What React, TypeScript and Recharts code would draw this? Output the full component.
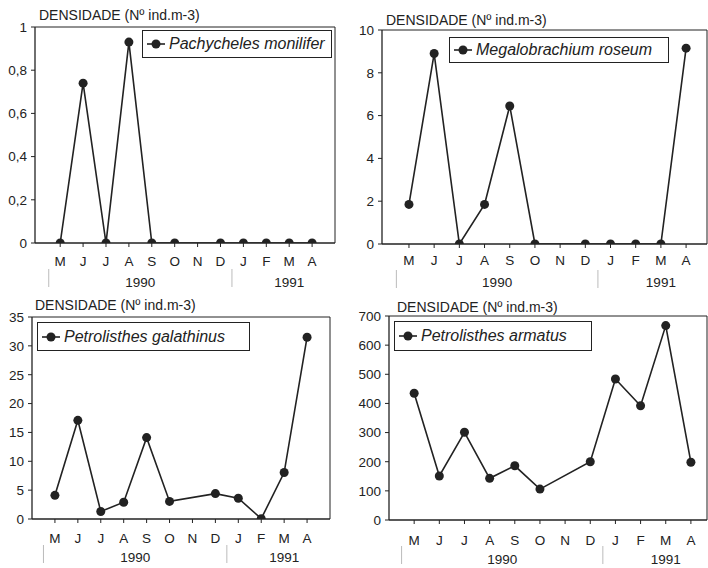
import React from "react";
import { LineChart, Line, XAxis, YAxis, ReferenceLine } from "recharts";

// meses de maio/1990 a abril/1991
const monthLabels = ["M", "J", "J", "A", "S", "O", "N", "D", "J", "F", "M", "A"];
const monthIndex = [0, 1, 2, 3, 4, 5, 6, 7, 8, 9, 10, 11];

// densidade (Nº ind.m-3) — N sem coleta
const pachycheles = [0, 0.74, 0, 0.93, 0, 0, null, 0, 0, 0, 0, 0];
const megalobrachium = [1.85, 8.9, 0, 1.85, 6.45, 0, null, 0, 0, 0, 0, 9.15];
const galathinus = [4.1, 17.1, 1.3, 2.9, 14.1, 3.05, null, 4.4, 3.6, 0.05, 8.05, 31.5];
const armatus = [435, 151, 301, 143, 186, 106, null, 200, 484, 392, 667, 198];

// eixo dos anos
const yearLabels = ["1990", "1991"];
const yearTicks = [3.5, 10];
const yearBreaks = [-0.5, 7.5];

const ticks1 = [0, 0.2, 0.4, 0.6, 0.8, 1];
const ticks2 = [0, 2, 4, 6, 8, 10];
const ticks3 = [0, 5, 10, 15, 20, 25, 30, 35];
const ticks4 = [0, 100, 200, 300, 400, 500, 600, 700];

const INK = "#222";
const FONT = "'Liberation Sans', Arial, Helvetica, sans-serif";

const panels = [
  {
    name: "Pachycheles monilifer", values: pachycheles, yTicks: ticks1,
    box: { left: 0, top: 0, w: 354, h: 290 },
    plot: { L: 35, R: 335, T: 27, B: 243 },
    xDomain: [-1.1, 12],
    legend: { left: 142, top: 30, w: 190, h: 28 },
    title: { left: 39, cy: 15 },
    monthOff: 18, yearOff: 15,
  },
  {
    name: "Megalobrachium roseum", values: megalobrachium, yTicks: ticks2,
    box: { left: 354, top: 0, w: 354, h: 290 },
    plot: { L: 382, R: 707, T: 30, B: 244 },
    xDomain: [-1.07, 11.83],
    legend: { left: 449, top: 37, w: 220, h: 26 },
    title: { left: 386, cy: 20 },
    monthOff: 16, yearOff: 14,
  },
  {
    name: "Petrolisthes galathinus", values: galathinus, yTicks: ticks3,
    box: { left: 0, top: 290, w: 354, h: 278 },
    plot: { L: 32, R: 330, T: 317, B: 519 },
    xDomain: [-1.0, 12.0],
    legend: { left: 37, top: 322, w: 213, h: 29 },
    title: { left: 35, cy: 305 },
    monthOff: 19, yearOff: 14,
  },
  {
    name: "Petrolisthes armatus", values: armatus, yTicks: ticks4,
    box: { left: 354, top: 290, w: 354, h: 278 },
    plot: { L: 389, R: 707, T: 316, B: 520 },
    xDomain: [-1.0, 11.64],
    legend: { left: 394, top: 321, w: 198, h: 30 },
    title: { left: 397, cy: 307 },
    monthOff: 20, yearOff: 15,
  },
];

const MONTH_AXIS_H = 24;

function MonthTick({ x, y, payload, off }: any) {
  return (
    <text x={x} y={y - 8 + off} textAnchor="middle" dominantBaseline="central"
      fontSize={13.5} fontFamily={FONT} fill={INK}>
      {monthLabels[payload.value]}
    </text>
  );
}

function YearTick({ x, y, payload, off }: any) {
  const v = payload.value;
  if (yearBreaks.includes(v)) {
    return <line x1={x} x2={x} y1={y + 2} y2={y + 20} stroke="#bbb" strokeWidth={1} />;
  }
  return (
    <text x={x} y={y + off} textAnchor="middle" dominantBaseline="central"
      fontSize={13.5} fontFamily={FONT} fill={INK}>
      {yearLabels[yearTicks.indexOf(v)]}
    </text>
  );
}

function Panel({ p }: { p: (typeof panels)[number] }) {
  const data = monthIndex.map((i) => ({ i, v: p.values[i] }));
  const yMax = p.yTicks[p.yTicks.length - 1];
  const { box, plot } = p;
  return (
    <>
      <div style={{ position: "absolute", left: box.left, top: box.top }}>
        <LineChart
          width={box.w}
          height={box.h}
          data={data}
          margin={{ top: plot.T - box.top, left: 0, right: box.left + box.w - plot.R, bottom: 0 }}
        >
          <XAxis
            dataKey="i" type="number" domain={p.xDomain} ticks={monthIndex} interval={0}
            allowDataOverflow height={MONTH_AXIS_H} tickSize={4} tickMargin={4}
            axisLine={{ stroke: INK, strokeWidth: 1.3 }} tickLine={{ stroke: INK }}
            tick={<MonthTick off={p.monthOff} />}
          />
          <XAxis
            xAxisId="yr" dataKey="i" type="number" domain={p.xDomain}
            ticks={[...yearBreaks, ...yearTicks]} interval={0} allowDataOverflow
            height={box.top + box.h - plot.B - MONTH_AXIS_H}
            axisLine={false} tickLine={false} tickSize={0} tickMargin={0}
            tick={<YearTick off={p.yearOff} />}
          />
          <YAxis
            domain={[0, yMax]} ticks={p.yTicks} interval={0} allowDataOverflow
            width={plot.L - box.left} tickSize={4} tickMargin={4}
            axisLine={{ stroke: INK, strokeWidth: 1.3 }} tickLine={{ stroke: INK }}
            tick={{ fontSize: 13.5, fontFamily: FONT, fill: INK }}
            tickFormatter={(v: number) => String(v).replace(".", ",")}
          />
          {/* moldura: topo e lado direito */}
          <ReferenceLine y={yMax} stroke={INK} strokeWidth={1} ifOverflow="visible" />
          <ReferenceLine x={p.xDomain[1]} stroke={INK} strokeWidth={1} ifOverflow="visible" />
          <Line
            type="linear" dataKey="v" stroke={INK} strokeWidth={1.6} connectNulls
            dot={{ r: 4.5, fill: INK, stroke: INK, strokeWidth: 0 }}
            isAnimationActive={false}
          />
        </LineChart>
      </div>
      <div style={{
        position: "absolute", left: p.title.left, top: p.title.cy - 8,
        fontSize: 14, lineHeight: "16px", fontFamily: FONT, color: INK, whiteSpace: "nowrap",
      }}>
        DENSIDADE (Nº ind.m-3)
      </div>
      <div style={{
        position: "absolute", left: p.legend.left, top: p.legend.top,
        width: p.legend.w, height: p.legend.h, boxSizing: "border-box",
        border: `1.5px solid ${INK}`, background: "#fff",
        display: "flex", alignItems: "center", paddingLeft: 4, whiteSpace: "nowrap",
      }}>
        <svg width={18} height={10} style={{ marginRight: 4 }}>
          <line x1={0} x2={18} y1={5} y2={5} stroke={INK} strokeWidth={1.6} />
          <circle cx={9} cy={5} r={4.5} fill={INK} />
        </svg>
        <span style={{ fontSize: 16, fontStyle: "italic", fontFamily: FONT, color: INK }}>
          {p.name}
        </span>
      </div>
    </>
  );
}

export default function App() {
  return (
    <div style={{
      position: "absolute", left: 0, top: 0, width: 708, height: 568,
      background: "#fff", overflow: "hidden",
    }}>
      {panels.map((p) => <Panel key={p.name} p={p} />)}
    </div>
  );
}
